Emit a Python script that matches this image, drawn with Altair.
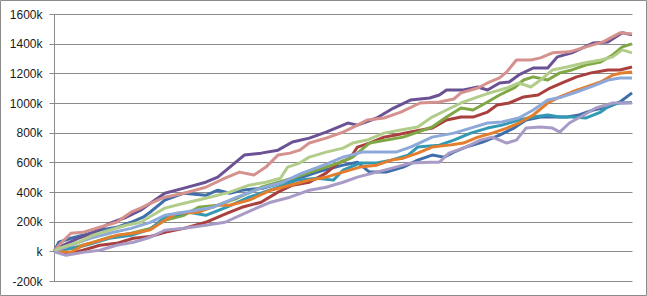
import altair as alt
import pandas as pd

# Each series: sample positions (on a 0-240 step axis) and values in thousands
blue_x = [0, 2, 7, 12, 19, 26, 32, 37, 40, 46, 54, 63, 68, 73, 78, 87, 95, 103, 112, 120, 126, 131, 138, 145, 151, 157, 162, 166, 171, 178, 185, 191, 196, 202, 207, 213, 218, 224, 230, 235, 240]
blue = [0, 61, 88, 108, 142, 162, 196, 230, 265, 345, 392, 378, 412, 392, 412, 426, 466, 500, 547, 581, 601, 534, 534, 568, 615, 649, 635, 669, 703, 737, 784, 831, 885, 905, 905, 905, 919, 953, 973, 1007, 1068]

red_x = [0, 7, 12, 19, 26, 33, 40, 46, 54, 63, 72, 78, 86, 93, 99, 106, 113, 118, 123, 126, 131, 137, 142, 148, 157, 163, 169, 174, 180, 184, 189, 195, 201, 206, 211, 217, 223, 230, 235, 240]
red = [0, -14, 7, 41, 54, 88, 100, 128, 155, 196, 257, 297, 331, 399, 446, 466, 527, 595, 628, 703, 730, 770, 784, 804, 831, 885, 905, 905, 939, 986, 1000, 1041, 1054, 1101, 1135, 1176, 1203, 1223, 1223, 1243]

green_x = [0, 7, 15, 23, 32, 40, 46, 54, 60, 68, 76, 86, 99, 109, 118, 124, 131, 138, 145, 151, 157, 163, 169, 174, 180, 185, 191, 195, 199, 205, 210, 215, 221, 227, 232, 236, 240]
green = [0, 20, 54, 95, 122, 155, 209, 243, 297, 311, 358, 432, 493, 547, 595, 635, 730, 750, 770, 804, 838, 905, 966, 953, 1007, 1054, 1101, 1155, 1176, 1155, 1203, 1223, 1257, 1277, 1324, 1378, 1399]

purple_x = [0, 2, 10, 16, 23, 30, 36, 40, 46, 54, 63, 68, 74, 79, 86, 93, 99, 106, 113, 122, 126, 134, 141, 148, 156, 160, 163, 170, 176, 180, 185, 189, 193, 199, 205, 209, 215, 224, 230, 236, 240]
purple = [0, 27, 88, 122, 189, 230, 277, 324, 392, 426, 466, 500, 581, 649, 662, 682, 737, 763, 804, 865, 851, 899, 966, 1020, 1034, 1054, 1088, 1088, 1108, 1088, 1135, 1142, 1189, 1236, 1236, 1311, 1338, 1405, 1412, 1473, 1460]

teal_x = [0, 2, 10, 16, 23, 32, 40, 46, 56, 63, 72, 81, 93, 101, 109, 116, 120, 127, 134, 140, 147, 151, 160, 166, 173, 180, 186, 193, 199, 205, 210, 215, 221, 227, 231, 235, 240]
teal = [0, 7, 27, 54, 88, 108, 150, 230, 264, 243, 300, 365, 432, 480, 493, 480, 547, 595, 595, 615, 649, 703, 716, 750, 797, 831, 851, 885, 905, 919, 905, 905, 899, 939, 986, 1000, 1003]

orange_x = [0, 7, 12, 19, 26, 33, 40, 46, 51, 60, 68, 73, 81, 90, 98, 106, 113, 120, 127, 134, 140, 145, 151, 157, 164, 170, 176, 182, 188, 193, 199, 205, 210, 215, 221, 227, 232, 236, 240]
orange = [0, -7, 41, 74, 108, 122, 145, 209, 257, 264, 311, 311, 345, 412, 446, 480, 500, 534, 568, 581, 615, 628, 662, 703, 716, 730, 770, 797, 831, 865, 919, 1000, 1041, 1074, 1108, 1142, 1189, 1203, 1209]

light_blue_x = [0, 7, 15, 23, 32, 40, 46, 59, 66, 76, 86, 95, 103, 112, 120, 128, 137, 142, 148, 153, 157, 166, 173, 180, 186, 193, 199, 205, 211, 217, 224, 230, 235, 240]
light_blue = [0, 41, 88, 122, 155, 195, 243, 277, 297, 365, 426, 466, 527, 581, 635, 669, 669, 669, 703, 740, 770, 797, 831, 865, 872, 899, 953, 1020, 1041, 1074, 1115, 1155, 1169, 1169]

pink_x = [0, 2, 7, 12, 19, 26, 32, 36, 40, 46, 54, 63, 71, 77, 83, 88, 93, 98, 102, 106, 113, 120, 126, 130, 137, 144, 152, 160, 166, 169, 176, 180, 185, 188, 192, 198, 202, 207, 214, 221, 228, 235, 240]
pink = [0, 41, 122, 128, 162, 196, 264, 291, 324, 365, 392, 432, 493, 534, 514, 568, 649, 662, 682, 730, 763, 804, 851, 885, 899, 939, 1000, 1007, 1027, 1068, 1101, 1135, 1169, 1210, 1290, 1290, 1304, 1338, 1345, 1378, 1412, 1473, 1466]

light_green_x = [0, 2, 10, 16, 23, 30, 36, 40, 46, 54, 63, 73, 81, 88, 94, 97, 102, 106, 113, 120, 124, 130, 137, 144, 151, 157, 163, 169, 176, 181, 188, 193, 198, 202, 207, 213, 220, 227, 232, 236, 240]
light_green = [0, 20, 61, 108, 142, 176, 196, 235, 291, 324, 358, 399, 446, 466, 493, 568, 595, 635, 669, 696, 730, 750, 797, 818, 838, 905, 953, 1000, 1041, 1068, 1101, 1135, 1108, 1155, 1223, 1243, 1270, 1290, 1311, 1358, 1338]

light_purple_x = [0, 1, 5, 12, 19, 26, 33, 40, 46, 54, 63, 71, 81, 90, 98, 106, 113, 120, 126, 134, 142, 148, 156, 160, 164, 171, 177, 182, 188, 192, 196, 202, 207, 210, 214, 220, 225, 232, 240]
light_purple = [-5, -7, -27, -7, 7, 41, 61, 95, 142, 155, 176, 196, 270, 331, 365, 412, 432, 466, 500, 534, 568, 595, 601, 601, 662, 703, 750, 770, 730, 750, 831, 838, 831, 804, 865, 919, 966, 1000, 1000]

series_names = ["S1", "S2", "S3", "S4", "S5", "S6", "S7", "S8", "S9", "S10"]
series_data = [(blue_x, blue), (red_x, red), (green_x, green), (purple_x, purple), (teal_x, teal),
               (orange_x, orange), (light_blue_x, light_blue), (pink_x, pink),
               (light_green_x, light_green), (light_purple_x, light_purple)]
series_colors = ["#3F6EAA", "#AA403E", "#7FA845", "#6B5295", "#3199B3", "#E47E2D",
                 "#8DA9D9", "#D4918D", "#B2CD8A", "#A89BC6"]
y_ticks = [-200, 0, 200, 400, 600, 800, 1000, 1200, 1400, 1600]

rows = []
for order, (name, (xs, vals)) in enumerate(zip(series_names, series_data)):
    for s, v in zip(xs, vals):
        rows.append({"series": name, "order": order, "step": s, "value": v})
df = pd.DataFrame(rows)

W, H = 578, 267

lines = alt.Chart(df).mark_line(strokeWidth=3, strokeJoin="round").encode(
    x=alt.X("step:Q", scale=alt.Scale(domain=[0, 240], nice=False), axis=None),
    y=alt.Y("value:Q",
            scale=alt.Scale(domain=[-200, 1600], nice=False),
            axis=alt.Axis(values=y_ticks, title=None,
                          labelExpr="datum.value == 0 ? 'k' : datum.value + 'k'",
                          grid=True, gridColor="#8a8a8a", gridWidth=1,
                          domainColor="#8a8a8a", tickColor="#8a8a8a", tickSize=5,
                          labelPadding=7, labelFont="Liberation Sans", labelFontSize=12,
                          labelColor="#1a1a1a")),
    color=alt.Color("series:N", scale=alt.Scale(domain=series_names, range=series_colors), legend=None),
    detail="series:N",
)

border = alt.Chart(pd.DataFrame({"a": [0]})).mark_rect(
    fill=None, stroke="#8c8c8c", strokeWidth=1
).encode(
    x=alt.value(-53.5), x2=alt.value(W + 14.5),
    y=alt.value(-13.5), y2=alt.value(H + 14.5),
)

chart = alt.layer(lines, border).properties(
    width=W, height=H,
    autosize=alt.AutoSizeParams(type="none"),
    padding={"left": 54, "top": 14, "right": 15, "bottom": 15},
    background="white",
).configure_view(stroke=None)

chart.save("out.html", embed_options={"renderer": "svg", "actions": False})
